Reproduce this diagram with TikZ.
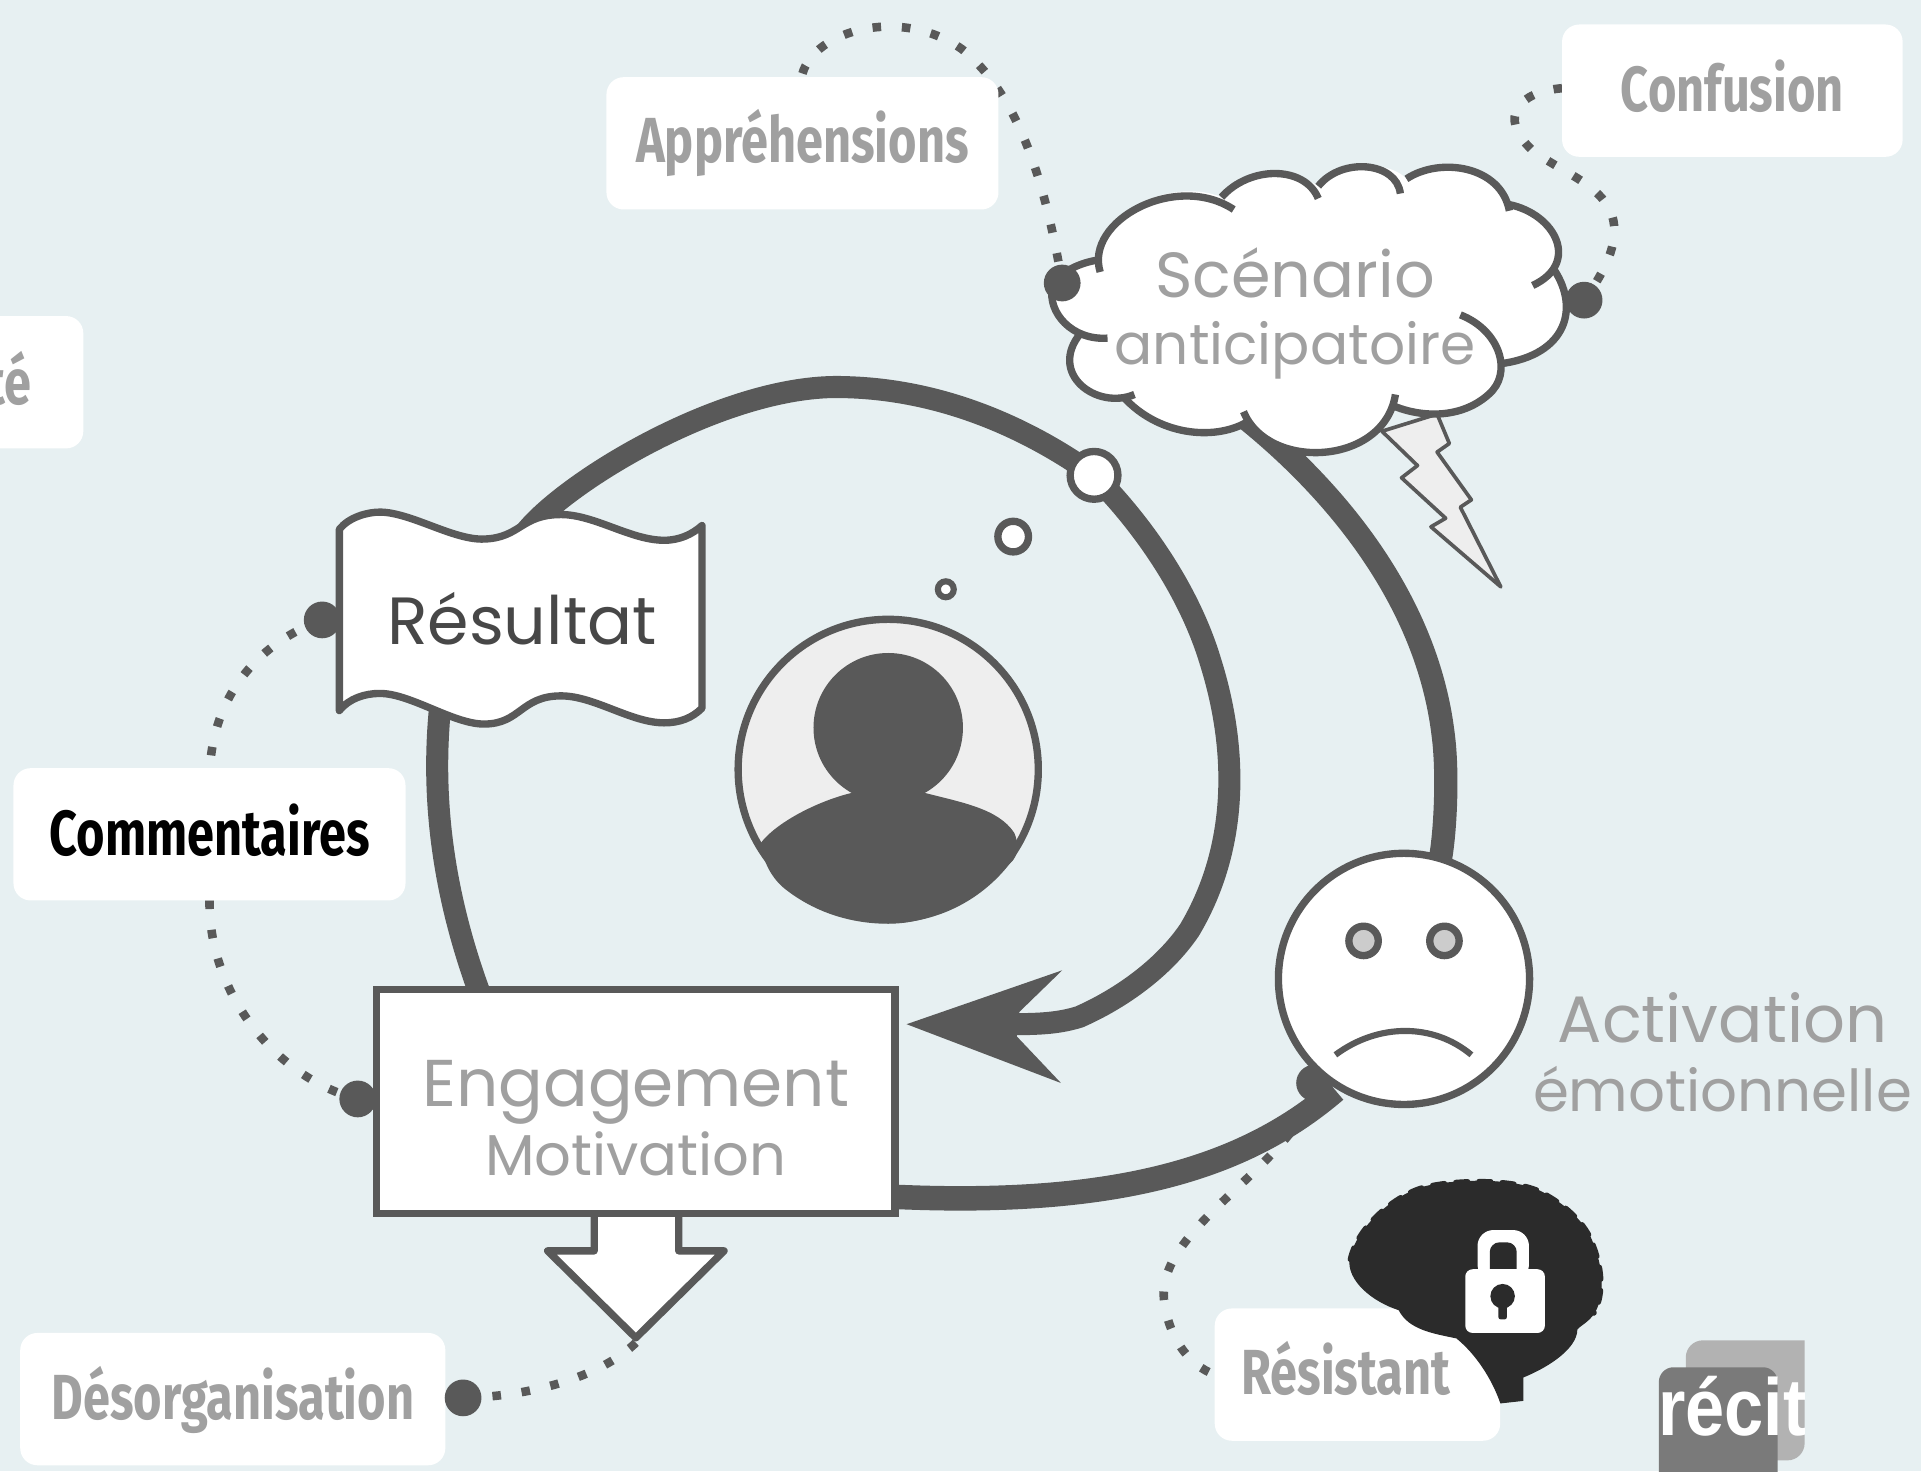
\documentclass[tikz,border=0pt]{standalone}
\usepackage{fontspec}
\setmainfont{Poppins}
\newfontfamily\oswfont[FakeStretch=0.765]{Fira Sans}[BoldFont=Fira Sans Bold]
\newfontfamily\logofont{Liberation Sans}
\definecolor{bgc}{HTML}{E7F0F2}
\definecolor{dk}{HTML}{595959}
\definecolor{lt}{HTML}{A0A0A0}
\definecolor{pale}{HTML}{EEEEEE}
\definecolor{brainc}{HTML}{2B2B2B}
\tikzset{
  labelbox/.style={fill=white,draw=none,rounded corners=14pt},
  labeltext/.style={font=\oswfont\bfseries\fontsize{52}{52}\selectfont,text=lt,inner sep=0pt},
  thickline/.style={draw=dk,line width=18pt},
  dotline/.style={draw=dk,line width=7pt,dash pattern=on 7pt off 17pt},
  pin/.style={circle,fill=dk,minimum size=30pt,inner sep=0pt},
  cloudarc/.style={draw=dk,line width=6pt},
  gtext/.style={text=lt,inner sep=0pt},
}
\newcommand{\fsz}[1]{\fontsize{#1}{#1}\selectfont}
\begin{document}
\begin{tikzpicture}[x=1pt,y=-1pt]
\useasboundingbox (0,0) rectangle (1568,1201);
\fill[bgc] (0,0) rectangle (1568,1201);

% dotted links
\coordinate (a1) at (655,60);
\coordinate (a2) at (867,231);
\draw[dotline] (a1) .. controls (665,25) and (735,5) .. (785,40) .. controls (835,80) and (855,160) .. (a2);
\coordinate (c1) at (1275,72);
\coordinate (c2) at (1293,245);
\draw[dotline] (c1) .. controls (1240,75) and (1222,95) .. (1250,122) .. controls (1285,150) and (1355,160) .. (c2);
\coordinate (r1) at (263,506);
\coordinate (r2) at (171,640);
\draw[dotline] (r1) .. controls (210,525) and (170,570) .. (r2);
\coordinate (e1) at (171,735);
\coordinate (e2) at (292,897);
\draw[dotline] (e1) .. controls (170,810) and (225,880) .. (e2);
\coordinate (d1) at (378,1141);
\coordinate (d2) at (520,1095);
\draw[dotline] (d1) .. controls (430,1140) and (490,1125) .. (d2);
\coordinate (s1) at (1075,883);
\coordinate (s2) at (992,1122);
\draw[dotline] (s1) .. controls (1060,950) and (945,1000) .. (950,1060) .. controls (953,1090) and (970,1115) .. (s2);

% label boxes
\node[labelbox,minimum width=320pt,minimum height=108pt] (box1) at (655,117) {};
\node[labeltext] (t1) at (box1.center) {Appréhensions};
\node[labelbox,minimum width=278pt,minimum height=108pt] (box2) at (1414,74) {};
\node[labeltext] (t2) at (1414,70) {Confusion};
\fill[white,rounded corners=14pt] (-40,258) rectangle (68,366);
\node[labeltext,anchor=east] (t3) at (26,309) {té};
\node[labelbox,minimum width=320pt,minimum height=108pt] (box4) at (171,681) {};
\node[labeltext,text=black] (t4) at (171,678) {Commentaires};
\node[labelbox,minimum width=347pt,minimum height=108pt] (box5) at (190,1142) {};
\node[labeltext] (t5) at (190,1143) {Désorganisation};
\node[labelbox,minimum width=233pt,minimum height=108pt] (box6) at (1108,1122) {};
\node[labeltext,anchor=west] (t6) at (1013,1117) {Résistant};

% main loop
\coordinate (loopA) at (392,812);
\coordinate (loopB) at (825,836);
\draw[thickline] (loopA) .. controls (358,720) and (352,640) .. (360,570);
\draw[thickline] (425,440) .. controls (450,400) and (590,312) .. (690,316) .. controls (770,318) and (840,350) .. (893,388) .. controls (930,425) and (970,480) .. (988,540) .. controls (1010,610) and (1012,690) .. (971,759) .. controls (950,790) and (915,815) .. (881,830) .. controls (865,835) and (850,836) .. (loopB);
\fill[dk] (740,836) -- (867,792) -- (832,826) -- (830,846) -- (866,884) -- cycle;
\coordinate (clA) at (1015,340);
\coordinate (faA) at (1175,705);
\draw[thickline,line width=19pt] (clA) .. controls (1090,400) and (1165,490) .. (1178,600) .. controls (1182,630) and (1180,680) .. (faA);
\coordinate (faB) at (1090,890);
\coordinate (enB) at (733,977);
\draw[thickline,line width=20pt] (faB) .. controls (1020,950) and (920,985) .. (enB);
\node[pin] (p6) at (1073,884) {};

% thought bubbles
\node[circle,draw=dk,line width=6pt,fill=white,minimum size=39pt,inner sep=0pt] (bub0) at (893,388) {};
\node[circle,draw=dk,line width=6pt,fill=white,minimum size=25pt,inner sep=0pt] (bub1) at (827,438) {};
\node[circle,draw=dk,line width=5pt,fill=white,minimum size=13pt,inner sep=0pt] (bub2) at (772,481) {};

% person
\node[circle,draw=dk,line width=6pt,fill=pale,minimum size=245pt,inner sep=0pt] (person) at (725,628) {};
\fill[dk] (725,594) circle (61pt);
\fill[dk] (696,647) .. controls (670,653) and (635,670) .. (621,688) .. controls (622,700) and (628,715) .. (640,725) .. controls (665,745) and (695,754) .. (725,754) .. controls (770,754) and (805,725) .. (827,702) .. controls (832,695) and (831,688) .. (828,680) .. controls (815,660) and (785,655) .. (754,647) -- cycle;

% flag
\path[fill=white,draw=dk,line width=6pt,line join=round] (277,432) .. controls (285,422) and (300,418) .. (310,418) .. controls (335,418) and (370,441) .. (395,440) .. controls (425,439) and (425,420) .. (458,420) .. controls (485,420) and (515,441) .. (542,441) .. controls (555,441) and (565,436) .. (573,429) -- (573,578) .. controls (565,586) and (555,590) .. (542,590) .. controls (515,590) and (485,568) .. (458,568) .. controls (425,568) and (425,591) .. (395,591) .. controls (370,591) and (335,566) .. (310,566) .. controls (298,566) and (285,570) .. (277,580) -- cycle;
\node[font=\fsz{54.5},text=black!72,inner sep=0pt] (resultat) at (426,505) {Résultat};

% engagement arrow and box
\path[fill=white,draw=dk,line width=6pt,line join=round] (485,990) -- (485,1021) -- (447,1021) -- (519,1092) -- (591,1021) -- (554,1021) -- (554,990);
\node[rectangle,fill=white,draw=dk,line width=6pt,minimum width=423pt,minimum height=183pt,inner sep=0pt] (engbox) at (519,899) {};
\node[gtext,font=\fsz{54}] (eng) at (519,892) {Engagement};
\node[gtext,font=\fsz{47}] (mot) at (519,942) {Motivation};

% lightning and cloud
\path[fill=pale,draw=dk,line width=3pt,line join=round] (1128,352) -- (1157,380) -- (1144,390) -- (1180,423) -- (1168,430) -- (1225,479) -- (1192,414) -- (1201,408) -- (1173,369) -- (1183,362) -- (1173,338) -- cycle;
\path[fill=white] (898,212) .. controls (896,170) and (960,145) .. (997,161) .. controls (1020,135) and (1060,140) .. (1076,152) .. controls (1100,130) and (1135,132) .. (1148,146) .. controls (1175,128) and (1225,135) .. (1232,168) .. controls (1265,178) and (1280,205) .. (1267,218) .. controls (1290,250) and (1275,290) .. (1224,297) .. controls (1225,325) and (1185,345) .. (1139,332) .. controls (1120,370) and (1050,380) .. (1017,345) .. controls (990,358) and (940,355) .. (917,324) .. controls (890,328) and (855,305) .. (882,272) .. controls (855,265) and (855,235) .. (862,230) .. controls (865,220) and (885,212) .. (898,212) -- cycle;
\draw[cloudarc] (898,222) .. controls (885,180) and (960,140) .. (1007,171);
\draw[cloudarc] (997,161) .. controls (1020,135) and (1065,135) .. (1076,162);
\draw[cloudarc] (1076,152) .. controls (1095,128) and (1140,132) .. (1143,158);
\draw[cloudarc] (1148,146) .. controls (1175,128) and (1225,135) .. (1232,172);
\draw[cloudarc] (1232,167) .. controls (1270,175) and (1290,215) .. (1251,233);
\draw[cloudarc] (1267,218) .. controls (1290,250) and (1280,290) .. (1224,297);
\draw[cloudarc] (1192,257) .. controls (1225,270) and (1235,305) .. (1215,322) .. controls (1195,340) and (1165,342) .. (1139,332);
\draw[cloudarc] (1139,322) .. controls (1130,380) and (1035,385) .. (1015,336);
\draw[cloudarc] (917,324) .. controls (945,355) and (990,360) .. (1017,345);
\draw[cloudarc] (926,322) .. controls (895,335) and (855,305) .. (882,272);
\draw[cloudarc] (904,276) .. controls (875,278) and (855,255) .. (859,235) .. controls (860,225) and (880,214) .. (898,212);
\node[gtext,font=\fsz{52}] (scen) at (1057,223) {Scénario};
\node[gtext,font=\fsz{46.2}] (anti) at (1057,286) {anticipatoire};

% face
\node[circle,draw=dk,line width=6pt,fill=white,minimum size=205pt,inner sep=0pt] (face) at (1146,799) {};
\node[circle,draw=dk,line width=6pt,fill=black!20,minimum size=24pt,inner sep=0pt] (eyeL) at (1113,768) {};
\node[circle,draw=dk,line width=6pt,fill=black!20,minimum size=24pt,inner sep=0pt] (eyeR) at (1179,768) {};
\draw[dk,line width=5pt] (1090,861) .. controls (1125,835) and (1170,835) .. (1201,861);
\node[gtext,font=\fsz{53.6}] (act) at (1406,831) {Activation};
\node[gtext,font=\fsz{47.2}] (emo) at (1406,889) {émotionnelle};

% pins
\node[pin] (p1) at (867,231) {};
\node[pin] (p2) at (1293,245) {};
\node[pin] (p3) at (263,506) {};
\node[pin] (p4) at (292,897) {};
\node[pin] (p5) at (378,1141) {};

% brain
\path[fill=brainc,draw=brainc,line width=1pt] (1102,1028) .. controls (1108,1000) and (1140,975) .. (1162,969) .. controls (1190,962) and (1240,962) .. (1260,974) .. controls (1280,985) and (1295,1000) .. (1300,1015) .. controls (1310,1040) and (1308,1060) .. (1301,1072) .. controls (1295,1080) and (1289,1082) .. (1287,1085) .. controls (1287,1100) and (1265,1115) .. (1243,1124) -- (1243,1143) -- (1225,1145) .. controls (1218,1125) and (1205,1105) .. (1189,1092) .. controls (1170,1088) and (1150,1085) .. (1142,1069) .. controls (1120,1062) and (1100,1045) .. (1102,1028) -- cycle;
\draw[brainc,line width=4pt,dash pattern=on 10pt off 9pt,line cap=round] (1102,1028) .. controls (1108,1000) and (1140,975) .. (1162,969) .. controls (1190,962) and (1240,962) .. (1260,974) .. controls (1280,985) and (1295,1000) .. (1300,1015) .. controls (1310,1040) and (1308,1060) .. (1301,1072);
\fill[white,rounded corners=13pt] (1206,1045) -- (1206,1004) -- (1248,1004) -- (1248,1045) -- cycle;
\fill[brainc,rounded corners=8pt] (1216,1050) -- (1216,1014) -- (1238,1014) -- (1238,1050) -- cycle;
\fill[white,rounded corners=6pt] (1196,1036) rectangle (1261,1088);
\fill[brainc] (1226.5,1058) circle (10pt);
\fill[brainc,rounded corners=2pt] (1223,1060) rectangle (1230,1077);

% logo
\fill[black!30,rounded corners=14pt] (1376,1150) -- (1376,1094) [sharp corners] -- (1473,1094) [rounded corners=14pt] -- (1473,1192) -- (1400,1192) -- cycle;
\fill[black!52,rounded corners=12pt] (1354,1116) rectangle (1451,1230);
\begin{scope}
\clip (1354,1110) rectangle (1473,1190);
\node[font=\logofont\bfseries\fsz{66},text=white,inner sep=0pt,anchor=base,xscale=0.87] (logo) at (1414,1172) {récit};
\end{scope}
\end{tikzpicture}
\end{document}
